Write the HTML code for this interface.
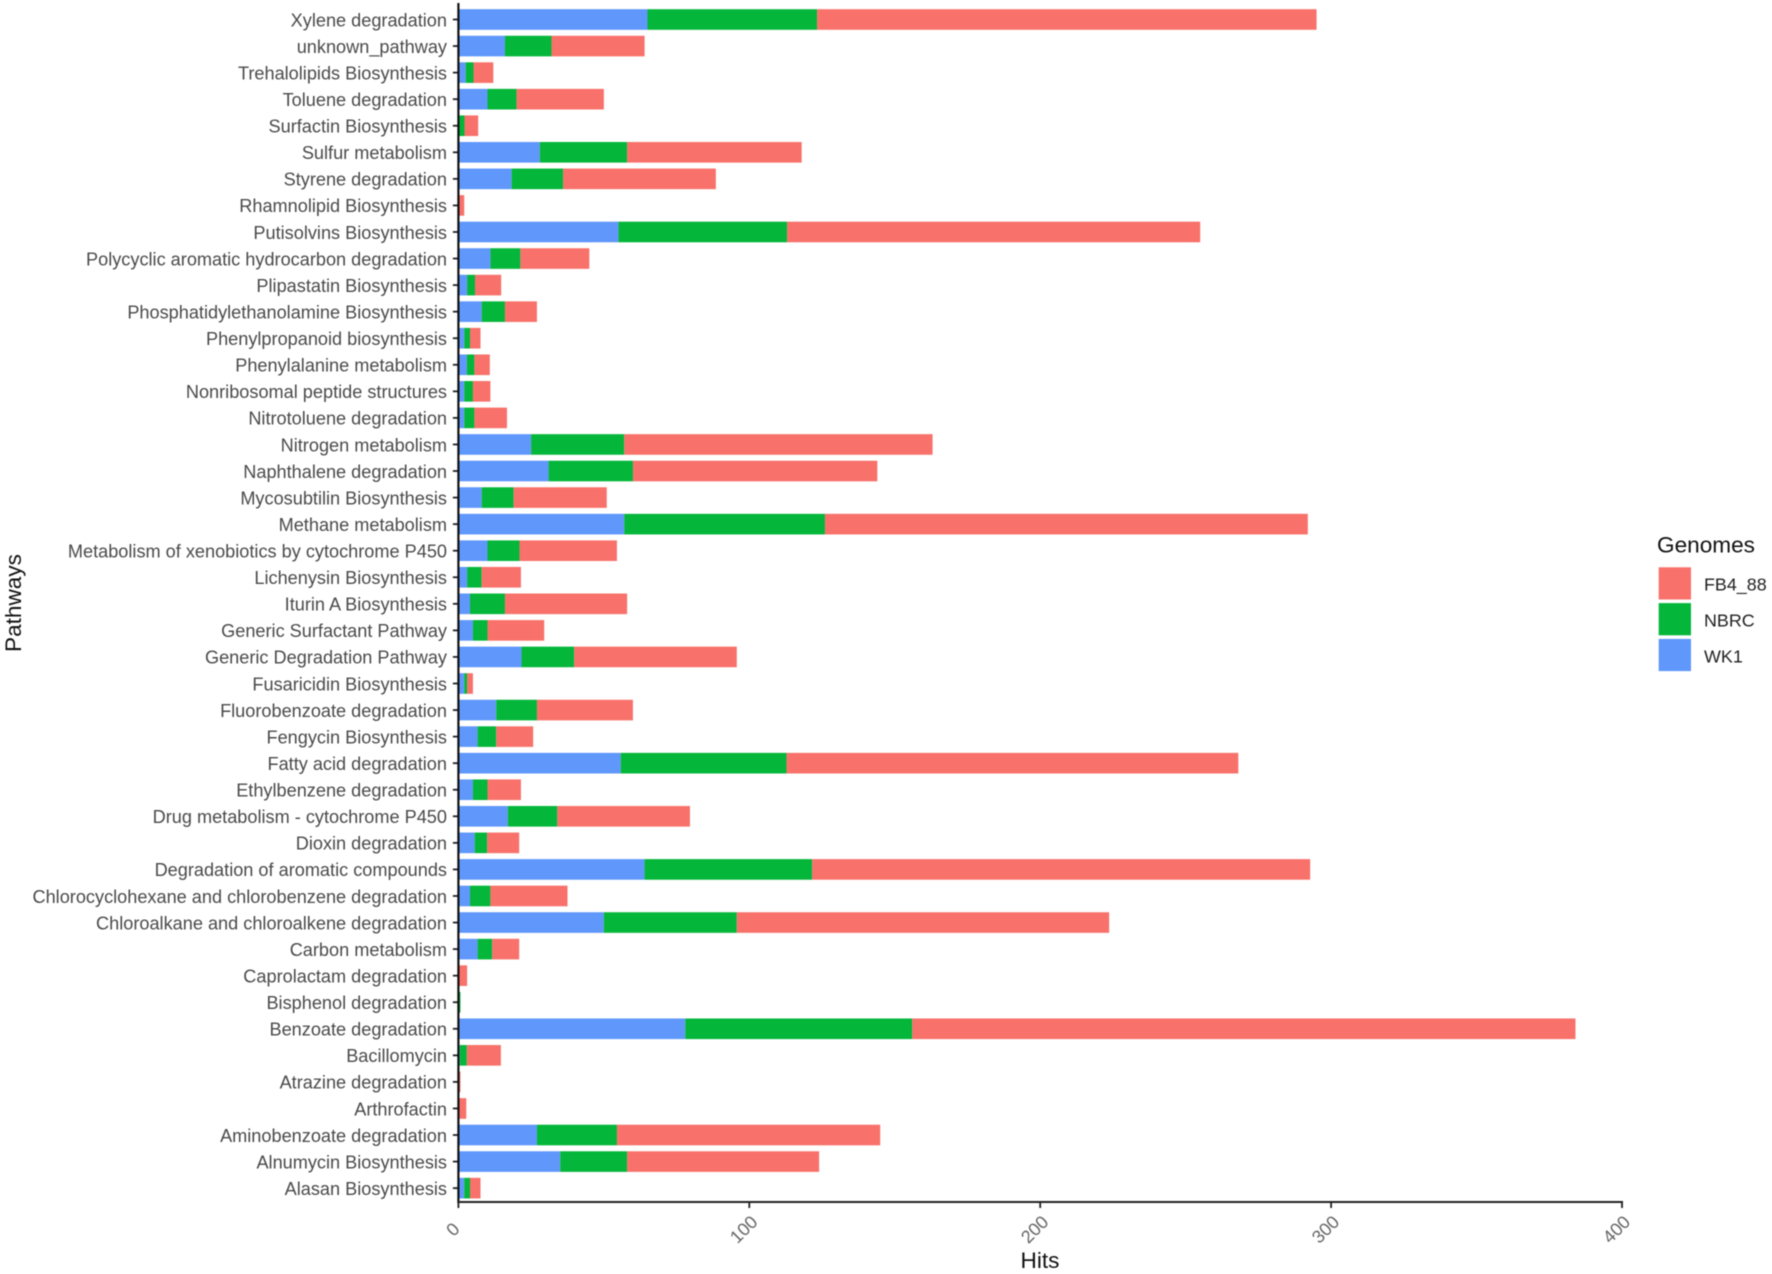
<!DOCTYPE html>
<html lang="en">
<head>
<meta charset="utf-8">
<title>Pathways vs Hits by Genome</title>
<style>
  html, body { margin: 0; padding: 0; background: #ffffff; }
  body { width: 1772px; height: 1274px; overflow: hidden; }
  svg { display: block; filter: blur(0.6px); }
  text { font-family: "Liberation Sans", Arial, sans-serif; }
</style>
</head>
<body>
<svg id="chart" xmlns="http://www.w3.org/2000/svg" width="1772" height="1274" viewBox="0 0 1772 1274">
  <rect x="0" y="0" width="1772" height="1274" fill="#ffffff"></rect>
  <g id="bars"></g>
  <g id="y-axis"></g>
  <g id="x-axis"></g>
  <text transform="translate(21,603) rotate(-90)" text-anchor="middle" font-size="22.6" fill="#111111">Pathways</text>
  <text x="1040" y="1268" text-anchor="middle" font-size="22.6" fill="#111111">Hits</text>
  <g id="legend">
    <text x="1657" y="552.5" font-size="22.6" fill="#111111">Genomes</text>
  </g>
</svg>
<script>
const categories = [
  "Xylene degradation","unknown_pathway","Trehalolipids Biosynthesis","Toluene degradation",
  "Surfactin Biosynthesis","Sulfur metabolism","Styrene degradation","Rhamnolipid Biosynthesis",
  "Putisolvins Biosynthesis","Polycyclic aromatic hydrocarbon degradation","Plipastatin Biosynthesis",
  "Phosphatidylethanolamine Biosynthesis","Phenylpropanoid biosynthesis","Phenylalanine metabolism",
  "Nonribosomal peptide structures","Nitrotoluene degradation","Nitrogen metabolism","Naphthalene degradation",
  "Mycosubtilin Biosynthesis","Methane metabolism","Metabolism of xenobiotics by cytochrome P450",
  "Lichenysin Biosynthesis","Iturin A Biosynthesis","Generic Surfactant Pathway","Generic Degradation Pathway",
  "Fusaricidin Biosynthesis","Fluorobenzoate degradation","Fengycin Biosynthesis","Fatty acid degradation",
  "Ethylbenzene degradation","Drug metabolism - cytochrome P450","Dioxin degradation",
  "Degradation of aromatic compounds","Chlorocyclohexane and chlorobenzene degradation",
  "Chloroalkane and chloroalkene degradation","Carbon metabolism","Caprolactam degradation",
  "Bisphenol degradation","Benzoate degradation","Bacillomycin","Atrazine degradation","Arthrofactin",
  "Aminobenzoate degradation","Alnumycin Biosynthesis","Alasan Biosynthesis"
];
const wk1 = [65,16,2.5,10,0,28,18.3,0,55,11,3,8,2,2.9,2,2,25,31,8,57,10,3,4,5,21.7,2,13,6.6,55.8,5,17,5.6,64,4,50,6.6,0,0,78,0.5,0,0,27,35,2];
const nbrc = [58.3,16,2.7,10,2.1,30,17.7,0,58,10.3,2.7,8,2,2.6,3,3.5,32,29,11,69,11,5,12,5,18.1,1,14,6.4,57,5,17,4.3,57.6,7,45.7,5,0,0.7,78,2.4,0,0,27.5,23,2];
const fb4 = [171.7,32,6.8,30,4.7,60,52.5,2,142,23.7,9,11,3.6,5.3,6,11.2,106,84,32,166,33.5,13.5,42,19.5,55.9,2,33,12.7,155.3,11.5,45.6,11,171.2,26.5,128,9.3,3,0,228,11.7,0.7,2.7,90.5,66,3.6];
const xTickValues = [0,100,200,300,400];
const legendLabels = ["FB4_88","NBRC","WK1"];

const SVG_NS = "http://www.w3.org/2000/svg";
const X0 = 458.4, PX_PER_UNIT = 2.909, Y_FIRST = 19.5, Y_STEP = 26.56, BAR_H = 20.6, AXIS_Y = 1202;
const COLOR_WK1 = "#5F97FB", COLOR_NBRC = "#04B63A", COLOR_FB4 = "#F8716A";

function xScale(v) { return X0 + v * PX_PER_UNIT; }
function yScale(i) { return Y_FIRST + i * Y_STEP; }
function make(tag, parent, attrs) {
  const el = document.createElementNS(SVG_NS, tag);
  for (const k in attrs) el.setAttribute(k, attrs[k]);
  parent.appendChild(el);
  return el;
}

const barsG = document.getElementById("bars");
const yAxisG = document.getElementById("y-axis");
const xAxisG = document.getElementById("x-axis");
const legendG = document.getElementById("legend");

categories.forEach(function (cat, i) {
  const y = yScale(i);
  let cum = 0;
  [[wk1[i], COLOR_WK1, "wk1"], [nbrc[i], COLOR_NBRC, "nbrc"], [fb4[i], COLOR_FB4, "fb4-88"]].forEach(function (s) {
    if (s[0] <= 0) return;
    const seg = make("rect", barsG, {
      x: xScale(cum), y: y - BAR_H / 2,
      width: xScale(cum + s[0]) - xScale(cum), height: BAR_H, fill: s[1]
    });
    
    
    seg.setAttribute('data-series', s[2]);
    cum += s[0];
  });

  const tick = make("line", yAxisG, { x1: X0 - 5.5, x2: X0, y1: y, y2: y, stroke: "#222222", "stroke-width": 1.8 });
  
  

  const label = make("text", yAxisG, { x: 447, y: y + 6.8, "text-anchor": "end", "font-size": 18.15, fill: "#4a4a4a" });
  
  
  label.textContent = cat;
});

const yLine = make("line", yAxisG, { x1: X0, x2: X0, y1: 3, y2: AXIS_Y + 1, stroke: "#111111", "stroke-width": 2.2 });



const xLine = make("line", xAxisG, { x1: X0 - 1, x2: xScale(400) + 1, y1: AXIS_Y, y2: AXIS_Y, stroke: "#222222", "stroke-width": 2 });



xTickValues.forEach(function (v) {
  const x = xScale(v);
  const tick = make("line", xAxisG, { x1: x, x2: x, y1: AXIS_Y, y2: AXIS_Y + 6, stroke: "#222222", "stroke-width": 1.8 });
  
  

  const label = make("text", xAxisG, {
    transform: "translate(" + (x - 5.5) + "," + 1229.5 + ") rotate(-45)",
    "text-anchor": "middle", "dominant-baseline": "central", "font-size": 18, fill: "#666666"
  });
  
  
  label.textContent = v;
});

const legendColors = [COLOR_FB4, COLOR_NBRC, COLOR_WK1];
legendLabels.forEach(function (name, i) {
  const top = 567.3 + i * 35.8;
  const key = make("rect", legendG, { x: 1658.7, y: top, width: 32.3, height: 32.2, fill: legendColors[i] });
  
  

  const text = make("text", legendG, { x: 1704, y: top + 23.4, "font-size": 17.9, fill: "#222222" });
  
  
  text.textContent = name;
});
</script>
</body>
</html>
